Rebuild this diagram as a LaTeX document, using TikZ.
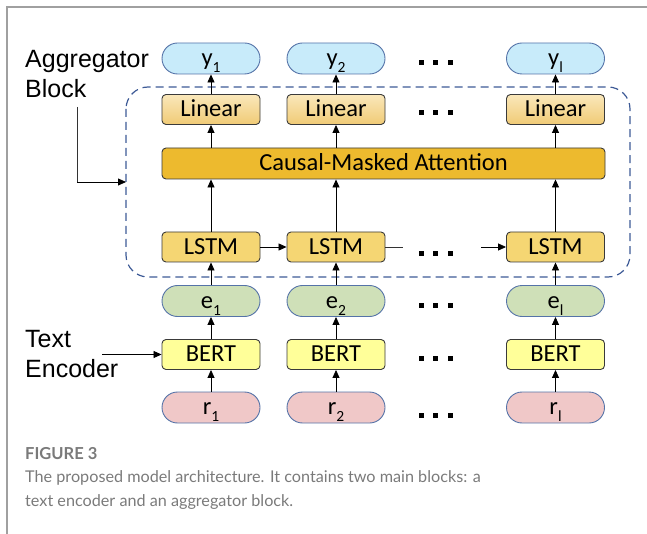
\documentclass[tikz,border=0pt]{standalone}
\usepackage{fontspec}
\setmainfont{Liberation Sans}
\newfontfamily\calib{Carlito}
\newfontfamily\capfont{Lato}
\usetikzlibrary{arrows.meta}
\definecolor{pillblue}{HTML}{C8EBFA}
\definecolor{pilledge}{HTML}{5573A8}
\definecolor{boxedge}{HTML}{3A3A3A}
\definecolor{lintop}{HTML}{FAE7BA}
\definecolor{linbot}{HTML}{F0CB76}
\definecolor{attfill}{HTML}{EDBA2E}
\definecolor{lstmfill}{HTML}{F5D673}
\definecolor{efill}{HTML}{CFE0B8}
\definecolor{bertfill}{HTML}{FFFF99}
\definecolor{rfill}{HTML}{F0C8C8}
\definecolor{dashblue}{HTML}{3D5A96}
\definecolor{framegrey}{HTML}{A0A0A0}
\definecolor{capgrey}{HTML}{7A7A7A}
\newcommand\mysub[1]{\raisebox{-7pt}{\fontsize{15.5}{15.5}\selectfont #1}}
\begin{document}
\begin{tikzpicture}[x=1pt,y=-1pt,
  base/.style={font=\calib\fontsize{24.5}{24.5}\selectfont, text height=16.5pt, text depth=2pt,
     inner sep=0pt, minimum width=98pt, line width=0.9pt},
  pill/.style={base, draw=pilledge, rounded corners=15.5pt, minimum height=31pt},
  ybox/.style={pill, fill=pillblue},
  ebox/.style={pill, fill=efill},
  rbox/.style={pill, fill=rfill},
  sq/.style={base, draw=boxedge, rounded corners=4pt, minimum height=30pt},
  linbox/.style={sq, top color=lintop, bottom color=linbot},
  lstmbox/.style={sq, fill=lstmfill},
  bertbox/.style={sq, fill=bertfill},
  attbox/.style={sq, fill=attfill, minimum width=443pt, minimum height=31pt},
  arr/.style={-{Triangle[length=8pt,width=7pt]}, line width=0.8pt, black},
  ln/.style={line width=0.8pt, black!80},
  lab/.style={font=\fontsize{25}{25}\selectfont, anchor=base west, inner sep=0pt},
  dotsq/.style={fill=black, minimum size=5pt, inner sep=0pt, draw=none},
  captext/.style={anchor=base west, inner sep=0pt, text=capgrey, font=\capfont\fontsize{16.2}{16.2}\selectfont},
]
\useasboundingbox (0,0) rectangle (647,534);
\draw[framegrey, line width=1.5pt] (647,7) -- (7,7) -- (7,534);

% dashed aggregator block
\draw[dashblue, line width=1.2pt, dash pattern=on 8pt off 5pt, rounded corners=22pt]
  (126,87) rectangle (630,277);

% columns
\foreach \i/\x/\s in {1/211/1, 2/336/2, 3/555.5/l}{
  \node[ybox] (y\i) at (\x,58.5) {y\mysub{\s}};
  \node[linbox] (lin\i) at (\x,109.5) {Linear};
  \node[lstmbox] (lstm\i) at (\x,247) {LSTM};
  \node[ebox] (e\i) at (\x,301) {e\mysub{\s}};
  \node[bertbox] (bert\i) at (\x,354.5) {BERT};
  \node[rbox] (r\i) at (\x,407.5) {r\mysub{\s}};
}
\node[attbox] (att) at (383.5,163.5) {Causal-Masked Attention};

\foreach \i in {1,2,3}{
  \draw[arr] (r\i) -- (bert\i);
  \draw[arr] (bert\i) -- (e\i);
  \draw[arr] (e\i) -- (lstm\i);
  \draw[arr] (lstm\i.north) -- (lstm\i.north |- att.south);
  \draw[arr] (lin\i.south |- att.north) -- (lin\i.south);
  \draw[arr] (lin\i) -- (y\i);
}

% recurrent connections
\coordinate (lout) at (403,247);
\coordinate (lin) at (481,247);
\draw[arr] (lstm1) -- (lstm2);
\draw[ln] (lstm2.east) -- (lout);
\draw[arr] (lin) -- (lstm3.west);

% ellipsis dots
\foreach \r/\yy in {a/63, b/113, c/254, d/305, e/358, f/415}{
  \foreach \k/\xx in {1/421.5, 2/435.5, 3/450}{
    \node[dotsq] (dot\r\k) at (\xx,\yy) {};
  }
}

% labels
\node[lab] (agg1) at (25,68) {Aggregator};
\node[lab] (agg2) at (25,98) {Block};
\coordinate (aggA) at (77,107);
\coordinate (aggB) at (77,182);
\coordinate (aggC) at (126,182);
\draw[ln] (aggA) -- (aggB);
\draw[arr] (aggB) -- (aggC);

\node[lab] (te1) at (25,347.5) {Text};
\node[lab] (te2) at (25,377.5) {Encoder};
\coordinate (teA) at (102,354.5);
\draw[arr] (teA) -- (bert1.west);

% caption
\node[captext, font=\capfont\bfseries\fontsize{16.5}{16.5}\selectfont] (figlab) at (25,459) {FIGURE 3};
\node[captext] (cap1) at (25,482) {The proposed model architecture. It contains two main blocks: a};
\node[captext] (cap2) at (25,506) {text encoder and an aggregator block.};
\end{tikzpicture}
\end{document}
